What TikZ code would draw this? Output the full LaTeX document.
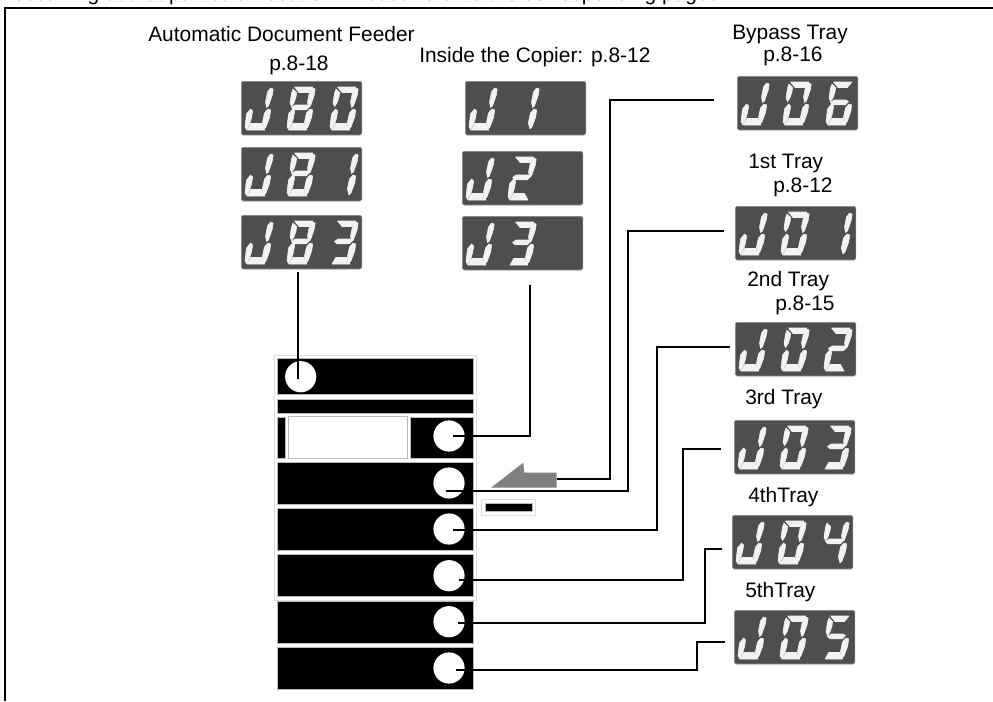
\documentclass[tikz,border=0pt]{standalone}
\usepackage{fontspec}
\setmainfont{Liberation Sans}
\definecolor{lcdgray}{HTML}{4D4F4D}
\definecolor{lcdedge}{HTML}{8A8C8A}
\definecolor{segwhite}{HTML}{F2F2F2}
\definecolor{panelline}{HTML}{B8B8B8}
\definecolor{outerline}{HTML}{DDDDDD}
\definecolor{arrowgray}{HTML}{808080}
\tikzset{
  lcdbox/.style={draw=lcdedge,fill=lcdgray,line width=0.4pt,rounded corners=1.3pt,inner sep=0pt,minimum width=90.5pt,minimum height=40.3pt,anchor=north west},
  segfill/.style={fill=segwhite,draw=segwhite,line width=0.4pt,line join=round},
  panelbar/.style={fill=black,draw=panelline,line width=0.5pt},
  hole/.style={circle,fill=white,draw=none,inner sep=0pt,minimum size=23.4pt},
  conn/.style={draw=black,line width=1.2pt,line cap=butt,line join=miter},
  lbl/.style={font=\fontsize{15.7pt}{18pt}\selectfont,anchor=base west,inner sep=0pt,text=black},
}
\newcommand\lcda{\fill[segfill] (11.5,6)--(30,6)--(25.5,11.5)--(16,11.5)--cycle;}
\newcommand\lcdb{\fill[segfill] (29.5,7)--(32.2,8)--(31.3,14)--(27.5,25)--(25.5,26.5)--(24.5,21)--(26.5,11)--cycle;}
\newcommand\lcdc{\fill[segfill] (27,28)--(29.7,29)--(28.7,36)--(25,46)--(23,48)--(21.3,42)--(23.5,32)--cycle;}
\newcommand\lcdd{\fill[segfill] (9.7,42.5)--(20.5,42.5)--(24,49)--(6,49)--cycle;}
\newcommand\lcde{\fill[segfill] (9.5,28)--(11.7,30)--(10.5,37)--(9,42)--(5.5,48.5)--(4,45.5)--(5.5,33)--cycle;}
\newcommand\lcdf{\fill[segfill] (10,8)--(13.7,11.5)--(13,16)--(11,22)--(8.5,25.5)--(7,22)--(8.5,12)--cycle;}
\newcommand\lcdg{\fill[segfill] (8.5,26.5)--(12,24)--(24,24)--(26.5,25.5)--(23.5,28.8)--(11,28.8)--cycle;}
\expandafter\def\csname lcdcharJ\endcsname{\lcdb\lcdc\lcdd\lcde}
\expandafter\def\csname lcdchar0\endcsname{\lcda\lcdb\lcdc\lcdd\lcde\lcdf}
\expandafter\def\csname lcdchar1\endcsname{\lcdb\lcdc}
\expandafter\def\csname lcdchar2\endcsname{\lcda\lcdb\lcdg\lcde\lcdd}
\expandafter\def\csname lcdchar3\endcsname{\lcda\lcdb\lcdg\lcdc\lcdd}
\expandafter\def\csname lcdchar4\endcsname{\lcdf\lcdg\lcdb\lcdc}
\expandafter\def\csname lcdchar5\endcsname{\lcda\lcdf\lcdg\lcdc\lcdd}
\expandafter\def\csname lcdchar6\endcsname{\lcda\lcdf\lcdg\lcde\lcdc\lcdd}
\expandafter\def\csname lcdchar8\endcsname{\lcda\lcdb\lcdc\lcdd\lcde\lcdf\lcdg}
\expandafter\def\csname lcdcharx\endcsname{}
\newcommand\lcddisplay[5]{%
  \node[lcdbox] (#1) at (#2,#3) {};
  \begin{scope}[shift={(#2,#3)}]
    \begin{scope}\csname lcdcharJ\endcsname\end{scope}
    \begin{scope}[shift={(42,0)}]\csname lcdchar#4\endcsname\end{scope}
    \begin{scope}[shift={(85,0)}]\csname lcdchar#5\endcsname\end{scope}
  \end{scope}}
\begin{document}
\begin{tikzpicture}[x=0.75pt,y=-0.75pt]
\useasboundingbox (0,0) rectangle (993,701);
\begin{scope}
\clip (0,0) rectangle (993,701);
\node[lbl] (intro) at (13,0.5) {occurring at that particular location. Please refer to the corresponding pages};
\end{scope}
% frame
\coordinate (frameBL) at (5,701);
\coordinate (frameTL) at (5,8);
\coordinate (frameTR) at (993,8);
\draw[black,line width=1.3pt] (frameBL) -- (frameTL) -- (frameTR);
% labels
\node[lbl] (adf) at (148,41) {Automatic Document Feeder};
\node[lbl] (adfp) at (269,70) {p.8-18};
\node[lbl] (inside) at (419,62) {Inside the Copier: p.8-12};
\node[lbl] (bypass) at (732,39) {Bypass Tray};
\node[lbl] (bypassp) at (763,61) {p.8-16};
\node[lbl] (t1) at (748,168) {1st Tray};
\node[lbl] (t1p) at (773,192) {p.8-12};
\node[lbl] (t2) at (747,286) {2nd Tray};
\node[lbl] (t2p) at (775,310) {p.8-15};
\node[lbl] (t3) at (745,404) {3rd Tray};
\node[lbl] (t4) at (748,502) {4thTray};
\node[lbl] (t5) at (745,597) {5thTray};
% displays
\lcddisplay{dJ80}{241}{81}{8}{0}
\lcddisplay{dJ81}{241}{147}{8}{1}
\lcddisplay{dJ83}{241}{215}{8}{3}
\lcddisplay{dJ1}{465}{81}{1}{x}
\lcddisplay{dJ2}{462}{151}{2}{x}
\lcddisplay{dJ3}{462}{216}{3}{x}
\lcddisplay{dJ06}{737}{76}{0}{6}
\lcddisplay{dJ01}{735}{206}{0}{1}
\lcddisplay{dJ02}{735}{322}{0}{2}
\lcddisplay{dJ03}{734}{420}{0}{3}
\lcddisplay{dJ04}{732}{515}{0}{4}
\lcddisplay{dJ05}{734}{610}{0}{5}
% copier
\draw[outerline,line width=0.7pt] (274,355) rectangle (476.5,600);
\draw[panelbar] (277,358.5) rectangle (473,394);
\draw[panelbar] (277,399.5) rectangle (473,413);
\draw[panelbar] (277,417) rectangle (285,458);
\draw[panelline,fill=white,line width=0.6pt] (288.5,416.5) rectangle (407,458.5);
\draw[panelbar] (410.5,417) rectangle (473,458);
\draw[panelbar] (277,462) rectangle (473,504);
\draw[panelbar] (277,508) rectangle (473,550);
\draw[panelbar] (277,554.5) rectangle (473,596);
\draw[panelbar] (277,601) rectangle (473,643);
\draw[panelbar] (277,647.5) rectangle (473,689);
\node[hole] (h1) at (300.7,376.7) {};
\node[hole] (h2) at (449,436) {};
\node[hole] (h3) at (449,483) {};
\node[hole] (h4) at (449,529) {};
\node[hole] (h5) at (449,575.7) {};
\node[hole] (h6) at (449,621.7) {};
\node[hole] (h7) at (449,668) {};
% bypass arrow and slot
\fill[arrowgray] (491,487.7)--(523.3,462.7)--(524.3,472.7)--(556.7,472.7)--(556.7,487.7)--cycle;
\draw[outerline,fill=white,line width=0.6pt] (481.7,499.3) rectangle (535.7,515.3);
\draw[panelbar] (485.5,503.5) rectangle (532,511.5);
% connector ends
\coordinate (a1) at (298,272); \coordinate (b1) at (298,379);
\coordinate (a2) at (530,285); \coordinate (b2) at (453,436);
\coordinate (a3) at (714,100); \coordinate (b3) at (557,479);
\coordinate (a4) at (724,231); \coordinate (b4) at (446,491);
\coordinate (a5) at (730,347); \coordinate (b5) at (453,530);
\coordinate (a6) at (721,449); \coordinate (b6) at (459,580);
\coordinate (a7) at (722,549); \coordinate (b7) at (458,623);
\coordinate (a8) at (725,642); \coordinate (b8) at (456,670);
\draw[conn] (a1) -- (b1);
\draw[conn] (a2) |- (b2);
\draw[conn] (a3) -- (610,100) |- (b3);
\draw[conn] (a4) -- (628,231) |- (b4);
\draw[conn] (a5) -- (657,347) |- (b5);
\draw[conn] (a6) -- (683,449) |- (b6);
\draw[conn] (a7) -- (705,549) |- (b7);
\draw[conn] (a8) -- (697,642) |- (b8);
\end{tikzpicture}
\end{document}
